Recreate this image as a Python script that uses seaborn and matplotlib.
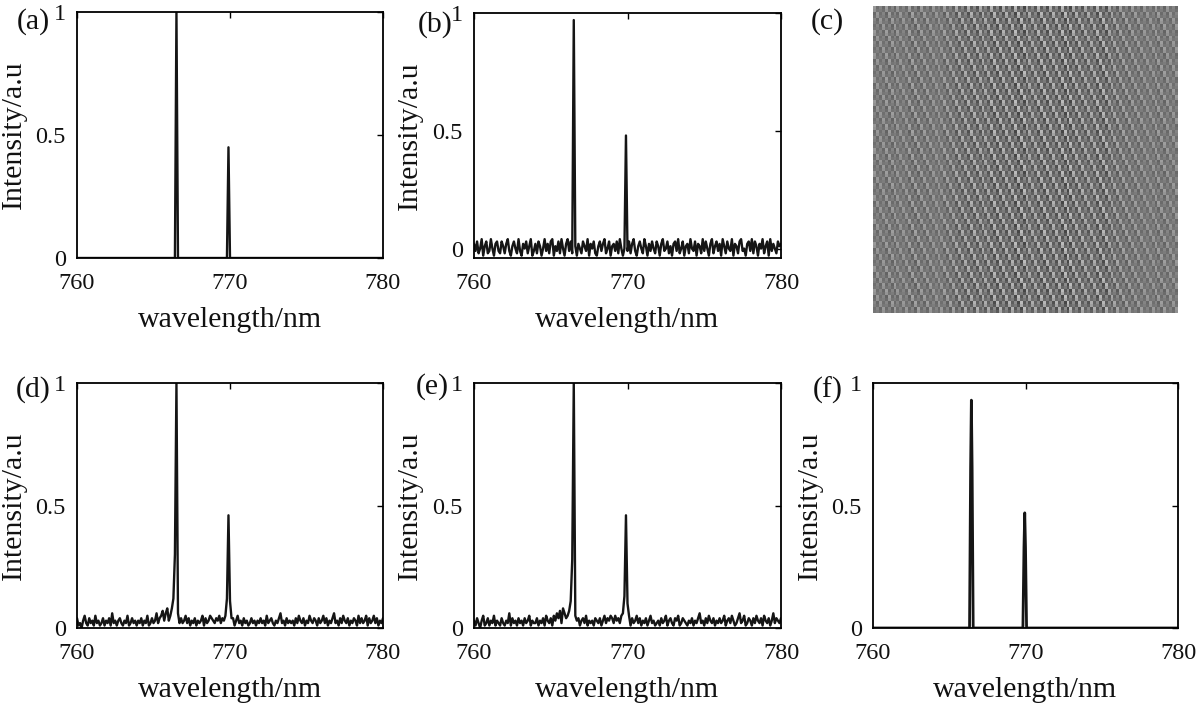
import numpy as np
import pandas as pd
import matplotlib
matplotlib.use("Agg")
import matplotlib.pyplot as plt
import seaborn as sns

# ---------------- data ----------------
WL_MIN, WL_MAX, WL_STEP = 760.0, 780.0, 0.1
wl_grid = np.round(np.linspace(WL_MIN, WL_MAX, 201), 2)

x_ticks = [760, 770, 780]
y_ticks = [0, 0.5, 1]
y_ticklabels = ["0", "0.5", "1"]
panel_letters = ["(a)", "(b)", "(c)", "(d)", "(e)", "(f)"]

# baselines in hundredths of intensity, one value per 0.1 nm
a_base = [0] * 201

b_base = [2,-1,3,-2,0,4,-3,1,3,-2,-1,4,0,-3,2,3,-1,-2,3,1,
          -2,2,4,-1,-3,1,3,0,-2,4,-1,-3,2,0,3,-2,1,4,-3,-1,
          2,-2,3,1,-3,0,4,-1,2,-2,3,4,-3,1,-1,3,-2,4,0,-3,
          2,4,-1,3,-2,1,3,-3,2,0,-2,3,1,-1,4,-3,2,0,3,-2,
          -3,1,3,-1,2,4,-2,0,3,-3,1,2,-1,3,-2,4,0,-3,2,1,
          -1,3,-2,2,4,-1,-3,1,3,0,-2,4,1,-3,2,-1,3,0,-2,3,
          1,-3,2,4,-1,0,3,-2,1,-3,2,3,-1,4,-2,0,3,-3,1,2,
          -2,4,0,-1,3,-3,2,1,-2,4,-1,3,0,-3,2,4,-2,1,3,-1,
          2,-3,4,1,-2,3,0,-1,4,-3,2,1,-2,3,4,-1,0,-3,2,3,
          -1,4,-2,3,1,-3,2,0,4,-2,1,3,-3,4,-1,2,0,-2,3,1,
          2]

d_base = [4,1,2,0,3,5,2,1,4,2,3,1,5,2,3,1,2,4,1,3,
          2,4,1,6,2,3,1,3,4,2,1,3,2,5,1,2,4,2,3,1,
          3,2,4,1,3,2,5,1,2,4,2,3,6,2,4,5,7,3,6,8,
          3,5,4,2,3,2,3,1,4,2,3,5,2,4,1,3,2,4,1,3,
          2,3,5,1,4,2,3,5,4,3,2,4,3,5,2,4,3,2,4,3,
          3,2,4,1,3,5,2,3,1,4,2,3,1,2,4,2,3,1,3,2,
          4,2,3,1,5,2,3,4,2,1,3,2,4,6,2,3,1,4,2,3,
          2,3,1,4,2,5,3,2,4,1,3,2,5,3,2,4,3,1,4,2,
          3,5,2,4,1,3,2,4,6,2,3,1,4,2,5,3,2,4,1,3,
          2,4,3,1,5,2,4,2,3,5,1,4,2,3,5,2,4,1,3,2,
          4]

e_base = [3,1,4,2,0,3,5,1,2,4,1,3,2,5,1,3,2,1,4,2,
          1,3,2,6,1,4,2,3,1,4,2,3,1,4,2,3,5,1,3,2,
          2,4,1,3,2,4,1,5,3,2,4,1,5,3,6,4,7,2,8,6,
          4,5,3,2,4,1,3,2,4,1,3,4,2,5,1,3,2,3,1,4,
          3,2,4,1,3,5,2,4,3,5,4,2,5,3,4,2,5,3,2,4,
          2,3,1,4,2,3,5,2,4,1,3,2,4,1,3,5,2,3,1,2,
          3,1,4,2,3,5,1,3,4,2,1,4,3,5,1,2,4,3,2,1,
          3,2,4,1,3,2,4,6,2,3,1,4,2,5,3,2,4,1,3,2,
          4,2,3,5,1,3,4,2,5,3,1,2,4,6,2,3,5,1,2,4,
          3,1,4,2,5,3,2,4,1,5,3,2,4,1,3,6,2,4,3,2,
          4]

f_base = [0] * 201

# emission peaks: (wavelengths, intensities) per line
a_peaks = [([766.4, 766.5, 766.6], [0.0, 1.0, 0.0]),
           ([769.8, 769.9, 770.0], [0.0, 0.45, 0.0])]
b_peaks = [([766.4, 766.5, 766.6], [-0.02, 0.97, 0.01]),
           ([769.8, 769.9, 770.0], [0.0, 0.48, -0.01])]
d_peaks = [([766.2, 766.3, 766.4, 766.5, 766.6, 766.7], [0.08, 0.12, 0.30, 1.0, 0.06, 0.02]),
           ([769.7, 769.8, 769.9, 770.0, 770.1], [0.05, 0.12, 0.46, 0.11, 0.04])]
e_peaks = [([766.2, 766.3, 766.4, 766.5, 766.6, 766.7], [0.07, 0.11, 0.28, 1.0, 0.05, 0.03]),
           ([769.7, 769.8, 769.9, 770.0, 770.1], [0.06, 0.13, 0.46, 0.10, 0.05])]
f_peaks = [([766.33, 766.40, 766.45, 766.50, 766.57], [0.0, 0.65, 0.93, 0.65, 0.0]),
           ([769.83, 769.90, 769.95, 770.00, 770.07], [0.0, 0.33, 0.47, 0.33, 0.0])]

# speckle/interference image (c): typed texture tile and column contrast bands
c_tile = [[0.70, 0.40, 0.55, 0.35],
          [0.65, 0.45, 0.50, 0.40],
          [0.35, 0.70, 0.40, 0.55],
          [0.40, 0.65, 0.45, 0.50],
          [0.55, 0.35, 0.70, 0.40],
          [0.50, 0.40, 0.65, 0.45],
          [0.40, 0.55, 0.35, 0.70],
          [0.45, 0.50, 0.40, 0.65]]
c_band_contrast = [0.5, 0.6, 0.5, 0.7, 0.6, 0.5, 0.7, 0.9, 1.0, 0.9, 1.1, 1.0,
                   1.2, 0.9, 1.1, 1.0, 1.2, 1.0, 0.9, 1.1, 0.8, 0.7, 0.6, 0.5,
                   0.6, 0.5]


def build_spectrum(base, peaks):
    x = list(wl_grid)
    y = [v / 100.0 for v in base]
    keep = np.ones(len(x), dtype=bool)
    for px, _ in peaks:
        lo, hi = min(px) - 1e-6, max(px) + 1e-6
        keep &= ~((wl_grid >= lo) & (wl_grid <= hi))
    xs = [xv for xv, k in zip(x, keep) if k]
    ys = [yv for yv, k in zip(y, keep) if k]
    for px, py in peaks:
        xs += list(px)
        ys += list(py)
    return pd.DataFrame({"wavelength": xs, "intensity": ys}).sort_values("wavelength")


spectra = {
    "a": (build_spectrum(a_base, a_peaks), (0, 1.0)),
    "b": (build_spectrum(b_base, b_peaks), (-0.04, 1.0)),
    "d": (build_spectrum(d_base, d_peaks), (0, 1.0)),
    "e": (build_spectrum(e_base, e_peaks), (0, 1.0)),
    "f": (build_spectrum(f_base, f_peaks), (0, 1.0)),
}

# ---------------- figure ----------------
sns.set_theme(style="white")
plt.rcParams["font.family"] = ["Liberation Serif", "DejaVu Serif"]

W, H = 1200, 705
fig = plt.figure(figsize=(12, 7.05), dpi=100)


def rect(left, top, right, bottom):
    return [left / W, 1 - bottom / H, (right - left) / W, (bottom - top) / H]


positions = {
    "a": rect(77, 12, 383, 258),
    "b": rect(474, 13, 781, 258),
    "c": rect(873, 6, 1178, 313),
    "d": rect(77, 383, 383, 628),
    "e": rect(474, 383, 781, 628),
    "f": rect(873, 383, 1178, 628),
}

LINE_COLOR = "#151515"
TICK_FS = 17.5
LABEL_FS = 21.5

for key, (df, ylim) in spectra.items():
    ax = fig.add_axes(positions[key])
    lw = 2.0 if key == "f" else 1.7
    sns.lineplot(data=df, x="wavelength", y="intensity", ax=ax, color=LINE_COLOR,
                 lw=lw, estimator=None, sort=True)
    ax.set_xlim(760, 780)
    ax.set_ylim(*ylim)
    ax.set_xticks(x_ticks)
    ax.set_xticklabels([str(t) for t in x_ticks])
    ax.set_yticks(y_ticks)
    ax.set_yticklabels(y_ticklabels)
    ax.tick_params(axis="both", direction="in", top=True, right=True, length=4,
                   width=1, color="black", labelsize=TICK_FS, labelcolor="#111111")
    ax.tick_params(axis="x", pad=11)
    ax.tick_params(axis="y", pad=8)
    for sp in ax.spines.values():
        sp.set_color("black")
        sp.set_linewidth(1.3)
    ax.set_xlabel("wavelength/nm", fontsize=LABEL_FS, color="#111111")
    ax.set_ylabel("Intensity/a.u", fontsize=LABEL_FS, color="#111111")
    ax.xaxis.set_label_coords(0.5, -0.20)
    ax.yaxis.set_label_coords(-0.165, 0.5)
    ax.set_facecolor("white")

# panel (c) image
tile = np.array(c_tile)
n_cols = len(c_band_contrast)
pattern = np.tile(tile, (13, n_cols))
contrast = np.repeat(np.array(c_band_contrast), tile.shape[1])
img = np.clip(0.5 + (pattern - 0.52) * 1.1 * contrast[None, :], 0, 1)
axc = fig.add_axes(positions["c"])
sns.heatmap(img, ax=axc, cmap="gray", vmin=0, vmax=1, cbar=False,
            xticklabels=False, yticklabels=False)
axc.set_xlabel("")
axc.set_ylabel("")
for sp in axc.spines.values():
    sp.set_visible(False)

# panel letters
letter_pos = [(33, 22), (435, 25), (827, 22), (33, 390), (432, 387), (828, 390)]
for letter, (px, py) in zip(panel_letters, letter_pos):
    fig.text(px / W, 1 - py / H, letter, ha="center", va="center",
             fontsize=LABEL_FS, color="#111111")

fig.savefig("out.png", dpi=100, facecolor="white")
